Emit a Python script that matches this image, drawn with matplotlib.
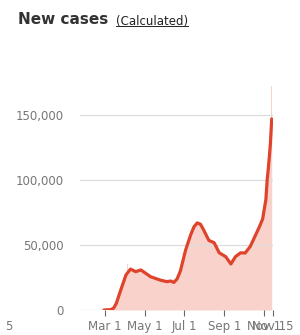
import matplotlib
matplotlib.use("Agg")
import matplotlib.pyplot as plt
import matplotlib.dates as mdates
import numpy as np
from datetime import datetime

# 7-day average of new cases
avg_dates = ["2020-02-28", "2020-03-10", "2020-03-14", "2020-03-18", "2020-03-25",
             "2020-04-02", "2020-04-09", "2020-04-17", "2020-04-25", "2020-05-10",
             "2020-05-25", "2020-06-04", "2020-06-10", "2020-06-15", "2020-06-20",
             "2020-06-25", "2020-07-03", "2020-07-11", "2020-07-16", "2020-07-21",
             "2020-07-26", "2020-07-31", "2020-08-08", "2020-08-16", "2020-08-24",
             "2020-09-03", "2020-09-11", "2020-09-18", "2020-09-26", "2020-10-03",
             "2020-10-11", "2020-10-18", "2020-10-25", "2020-10-30", "2020-11-04",
             "2020-11-06", "2020-11-08", "2020-11-11", "2020-11-13"]
avg_values = [0, 300, 1500, 5000, 15500,
              27000, 31500, 29500, 30800, 25600,
              23000, 21800, 22300, 21200, 24000,
              30000, 46000, 58000, 64000, 67000,
              66000, 61500, 53500, 51800, 44000,
              41000, 35400, 41000, 44000, 43800,
              49000, 56500, 64000, 70000, 85000,
              100000, 110000, 128000, 147000]

# a few daily reports that stick out above the average
spike_dates = ["2020-04-04", "2020-04-24", "2020-07-16", "2020-07-24",
               "2020-10-23", "2020-11-06", "2020-11-12", "2020-11-13"]
spike_values = [35000, 36000, 77000, 78000, 84000, 128000, 145000, 172000]

tick_dates = ["2020-03-01", "2020-05-01", "2020-07-01", "2020-09-01",
              "2020-11-01", "2020-11-15"]
tick_labels = ["Mar 1", "May 1", "Jul 1", "Sep 1", "Nov 1", "Nov 15"]
y_ticks = [0, 50000, 100000, 150000]

to_dt = lambda lst: [datetime.strptime(d, "%Y-%m-%d") for d in lst]

fig = plt.figure(figsize=(3.0, 3.35), dpi=100)
ax = fig.add_axes([80 / 300, 1 - 310 / 335, 193 / 300, 240 / 335])

x = mdates.date2num(to_dt(avg_dates))
ax.fill_between(x, 0, avg_values, color="#f8d2cb", lw=0, zorder=1)
ax.bar(mdates.date2num(to_dt(spike_dates)), spike_values, width=0.8,
       color="#f8d2cb", lw=0, zorder=1)
ax.plot(x, avg_values, color="#e0432b", lw=2.3, solid_capstyle="round",
        solid_joinstyle="round", zorder=3)

ax.set_xlim(mdates.date2num(datetime(2020, 1, 22)), mdates.date2num(datetime(2020, 11, 15)))
ax.set_ylim(0, 184600)

ax.set_yticks(y_ticks)
ax.set_yticklabels([f"{v:,}" for v in y_ticks])
ax.set_xticks(mdates.date2num(to_dt(tick_dates)))
ax.set_xticklabels(tick_labels)

ax.grid(axis="y", color="#dddddd", lw=0.9, zorder=0)
for s in ax.spines.values():
    s.set_visible(False)
ax.tick_params(axis="y", length=0, pad=12, labelsize=8.5, labelcolor="#777777")
ax.tick_params(axis="x", length=4, width=0.8, color="#666666", pad=3,
               labelsize=8.5, labelcolor="#777777")

fig.text(5 / 300, 1 - 327 / 335, "5", fontsize=8.5, color="#777777", va="center")

title = fig.text(18 / 300, 1 - 20 / 335, "New cases", fontsize=11, fontweight="bold",
                 color="#333333", va="center")
sub = fig.text(116 / 300, 1 - 21 / 335, "(Calculated)", fontsize=8.5,
               color="#222222", va="center")
fig.canvas.draw()
bb = sub.get_window_extent(fig.canvas.get_renderer()).transformed(fig.transFigure.inverted())
fig.add_artist(plt.Line2D([bb.x0, bb.x1], [bb.y0 + 0.003, bb.y0 + 0.003],
                          transform=fig.transFigure, color="#222222", lw=0.7))

fig.savefig("out.png", dpi=100)
